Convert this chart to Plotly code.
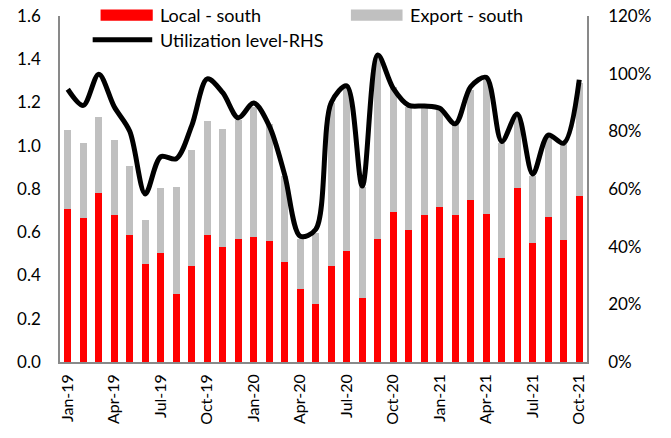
import plotly.graph_objects as go

months = ["Jan-19", "Feb-19", "Mar-19", "Apr-19", "May-19", "Jun-19", "Jul-19", "Aug-19",
          "Sep-19", "Oct-19", "Nov-19", "Dec-19", "Jan-20", "Feb-20", "Mar-20", "Apr-20",
          "May-20", "Jun-20", "Jul-20", "Aug-20", "Sep-20", "Oct-20", "Nov-20", "Dec-20",
          "Jan-21", "Feb-21", "Mar-21", "Apr-21", "May-21", "Jun-21", "Jul-21", "Aug-21",
          "Sep-21", "Oct-21"]

local_south = [0.707, 0.666, 0.783, 0.680, 0.586, 0.453, 0.503, 0.316, 0.442, 0.587,
               0.533, 0.570, 0.580, 0.560, 0.461, 0.339, 0.267, 0.445, 0.513, 0.297,
               0.569, 0.692, 0.610, 0.678, 0.717, 0.680, 0.749, 0.684, 0.482, 0.805,
               0.550, 0.669, 0.566, 0.768]

export_south = [0.366, 0.345, 0.351, 0.347, 0.320, 0.204, 0.303, 0.493, 0.538, 0.526,
                0.544, 0.550, 0.600, 0.540, 0.400, 0.230, 0.330, 0.755, 0.770, 0.510,
                0.840, 0.580, 0.570, 0.500, 0.450, 0.420, 0.510, 0.620, 0.530, 0.330,
                0.310, 0.370, 0.440, 0.520]

utilization = [0.946, 0.890, 0.998, 0.885, 0.800, 0.583, 0.712, 0.705, 0.820, 0.982,
               0.934, 0.847, 0.898, 0.819, 0.648, 0.436, 0.460, 0.900, 0.958, 0.610,
               1.065, 0.949, 0.890, 0.888, 0.880, 0.826, 0.955, 0.987, 0.765, 0.860,
               0.652, 0.787, 0.759, 0.979]

tick_labels = months[::3]

RED = "#FF0000"
GREY = "#C0C0C0"
AXIS = "#898989"
FONT = "Lato"

fig = go.Figure()
fig.add_trace(go.Bar(x=months, y=local_south, name="Local - south",
                     marker=dict(color=RED, line=dict(width=0))))
fig.add_trace(go.Bar(x=months, y=export_south, name="Export - south",
                     marker=dict(color=GREY, line=dict(width=0))))
fig.add_trace(go.Scatter(x=months, y=utilization, name="Utilization level-RHS", yaxis="y2",
                         mode="lines",
                         line=dict(color="black", width=5, shape="spline", smoothing=0.9)))

fig.update_layout(
    width=671, height=438,
    margin=dict(l=60, r=84, t=16, b=76, autoexpand=False),
    barmode="stack", bargap=0.55,
    plot_bgcolor="white", paper_bgcolor="white",
    showlegend=False,
    font=dict(family=FONT, size=16, color="black"),
    xaxis=dict(type="category", categoryorder="array", categoryarray=months,
               tickmode="array", tickvals=tick_labels, ticktext=tick_labels,
               tickangle=-90, tickfont=dict(size=16), showline=True, linecolor=AXIS,
               linewidth=1.5, showgrid=False, zeroline=False, ticks="",
               ticklabelstandoff=4, automargin=False),
    yaxis=dict(range=[0, 1.6], dtick=0.2, tickformat=".1f", showline=True,
               linecolor=AXIS, linewidth=1.5, showgrid=False, zeroline=False,
               ticks="", ticklabelstandoff=14, tickfont=dict(size=17), automargin=False,
               ticklabeloverflow="allow"),
    yaxis2=dict(range=[0, 1.2], dtick=0.2, tickformat=".0%", overlaying="y",
                side="right", showline=True, linecolor=AXIS, linewidth=1.5,
                showgrid=False, zeroline=False, ticks="", ticklabelstandoff=16,
                tickfont=dict(size=17), automargin=False, ticklabeloverflow="allow"),
)

# legend drawn as paper-positioned keys
fig.add_shape(type="rect", xref="paper", yref="paper", x0=0.077, x1=0.176,
              y0=0.986, y1=1.019, fillcolor=RED, line=dict(width=0))
fig.add_shape(type="rect", xref="paper", yref="paper", x0=0.552, x1=0.650,
              y0=0.986, y1=1.019, fillcolor=GREY, line=dict(width=0))
fig.add_shape(type="line", xref="paper", yref="paper", x0=0.062, x1=0.175,
              y0=0.931, y1=0.931, line=dict(color="black", width=5))
for xt, yt, txt in [(0.186, 1.003, "Local - south"), (0.660, 1.003, "Export - south"),
                    (0.186, 0.931, "Utilization level-RHS")]:
    fig.add_annotation(xref="paper", yref="paper", x=xt, y=yt, text=txt,
                       showarrow=False, xanchor="left", yanchor="middle",
                       font=dict(family=FONT, size=18, color="black"))

# remove the browser's default 8px body margin so the figure fills the window exactly
fig.write_html("out.html", config={"displayModeBar": False},
               post_script="document.body.style.margin='0';document.body.style.overflow='hidden';")
